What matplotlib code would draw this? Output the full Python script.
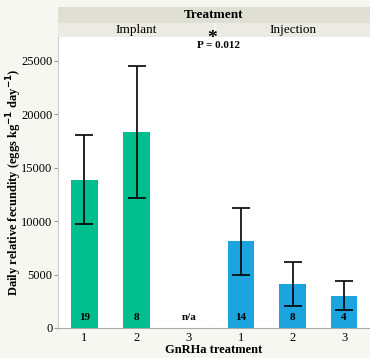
import matplotlib
matplotlib.use("Agg")
import matplotlib.pyplot as plt
from matplotlib.patches import Rectangle

plt.rcParams['font.family'] = ['Liberation Serif', 'DejaVu Serif']

treatments = ["Implant", "Injection"]
doses = [1, 2, 3]
means = {"Implant": [13850, 18300, None], "Injection": [8130, 4110, 2990]}
err_lo = {"Implant": [9680, 12120, None], "Injection": [4950, 2030, 1650]}
err_hi = {"Implant": [18030, 24450, None], "Injection": [11200, 6140, 4360]}
counts = {"Implant": ["19", "8", "n/a"], "Injection": ["14", "8", "4"]}
colors = {"Implant": "#00bf8f", "Injection": "#1ba4dd"}
yticks = [0, 5000, 10000, 15000, 20000, 25000]

W, H = 370, 358
fig = plt.figure(figsize=(W / 100, H / 100), dpi=100)
fig.patch.set_facecolor("#f7f7f2")

def fx(px):
    return px / W

def fy(py):
    return 1 - py / H

panel_x = [(58, 215), (215, 370)]
strip_x = [(58, 214.5), (215.5, 370)]
top, bottom = 37, 328

# header strips
fig.patches.append(Rectangle((fx(58), fy(23)), fx(370 - 58), 16 / H,
                             transform=fig.transFigure, facecolor="#dfdfd3",
                             edgecolor="none"))
fig.text(fx(214), fy(15), "Treatment", ha="center", va="center",
         fontsize=9.5, fontweight="bold")

axes = []
for i, t in enumerate(treatments):
    x0, x1 = panel_x[i]
    s0, s1 = strip_x[i]
    fig.patches.append(Rectangle((fx(s0), fy(37)), fx(s1 - s0), 14 / H,
                                 transform=fig.transFigure, facecolor="#ebebe3",
                                 edgecolor="none"))
    fig.text(fx((s0 + s1) / 2), fy(30), t, ha="center", va="center", fontsize=9.5)

    ax = fig.add_axes([fx(x0), fy(bottom), fx(x1 - x0), (bottom - top) / H])
    axes.append(ax)
    xs = [d for d, m in zip(doses, means[t]) if m is not None]
    ms = [m for m in means[t] if m is not None]
    lo = [m - l for m, l in zip(ms, [v for v in err_lo[t] if v is not None])]
    hi = [h - m for m, h in zip(ms, [v for v in err_hi[t] if v is not None])]
    ax.bar(xs, ms, width=0.51, color=colors[t], zorder=2)
    ax.errorbar(xs, ms, yerr=[lo, hi], fmt="none", ecolor="black",
                elinewidth=1.2, capsize=6.5, capthick=1.2, zorder=3)
    for d, c in zip(doses, counts[t]):
        ax.text(d, 950, c, ha="center", va="center", fontsize=8,
                fontweight="bold", zorder=4)

    ax.set_xlim(0.5, 3.5)
    ax.set_ylim(0, 27200)
    ax.set_xticks(doses)
    ax.set_xticklabels([str(d) for d in doses])
    ax.set_facecolor("white")
    for s in ["top", "right"]:
        ax.spines[s].set_visible(False)
    ax.spines["bottom"].set_color("#aaaaaa")
    ax.spines["left"].set_color("#cccccc")
    ax.tick_params(axis="x", length=0, labelsize=9, pad=3)
    if i == 0:
        ax.set_yticks(yticks)
        ax.set_yticklabels([str(v) for v in yticks])
        ax.tick_params(axis="y", length=3, color="#999999", labelsize=9, pad=1)
    else:
        ax.spines["left"].set_visible(False)
        ax.set_yticks([])

# significance mark: asterisk sits right on top of the P value
fig.text(fx(212), fy(38.5), "*", ha="center", va="center", fontsize=14,
         fontweight="bold")
fig.text(fx(219), fy(46), "P = 0.012", ha="center", va="center",
         fontsize=8, fontweight="bold")

fig.text(fx(214), fy(350), "GnRHa treatment", ha="center", va="center",
         fontsize=9, fontweight="bold")
fig.text(fx(14), fy(182), "Daily relative fecundity (eggs kg$^{\\mathbf{-1}}$ day$^{\\mathbf{-1}}$)",
         ha="center", va="center", rotation=90, fontsize=9, fontweight="bold")

fig.savefig("out.png", dpi=100, facecolor=fig.get_facecolor())
